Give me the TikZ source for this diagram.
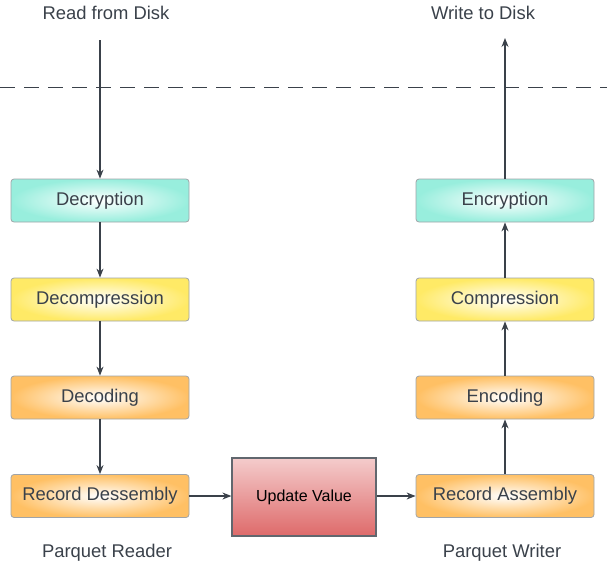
\documentclass[tikz,border=0pt]{standalone}
\usepackage{fontspec}
\setmainfont{Liberation Sans}
\usetikzlibrary{arrows.meta}
\definecolor{ink}{HTML}{3A414A}
\definecolor{edge}{HTML}{A0A4A8}
\definecolor{teal}{HTML}{98EEDD}
\definecolor{lemon}{HTML}{FFEA66}
\definecolor{amber}{HTML}{FFC064}
\definecolor{rosetop}{HTML}{F4CCCC}
\definecolor{rosebot}{HTML}{DE6A6A}
\tikzset{
  stage/.style={draw=edge, line width=0.8pt, rounded corners=3pt,
    minimum width=178pt, minimum height=43pt, inner sep=0pt,
    shading=radial, inner color=white, text=ink, font=\fontsize{18.4pt}{20pt}\selectfont},
  tealbox/.style={stage, outer color=teal},
  lemonbox/.style={stage, outer color=lemon},
  amberbox/.style={stage, outer color=amber},
  caption/.style={text=ink, font=\fontsize{18.4pt}{20pt}\selectfont},
  flow/.style={draw=ink, line width=1.2pt, -{Stealth[length=9pt,width=7pt]}},
}
\begin{document}
\begin{tikzpicture}[x=1pt,y=-1pt]
\useasboundingbox (0,0) rectangle (607,565);

% reader side
\node[caption] (rd) at (106,13) {Read from Disk};
\coordinate (rdstart) at (100,40);
\node[tealbox]  (decr) at (100,200.5) {Decryption};
\node[lemonbox] (decp) at (100,299.5) {Decompression};
\node[amberbox] (deco) at (100,397.5) {Decoding};
\node[amberbox] (rdis) at (100,496) {Record Dessembly};
\node[caption] (pr) at (107,553) {Parquet Reader};

% writer side
\node[caption] (wd) at (483,13) {Write to Disk};
\coordinate (wdend) at (505,38);
\node[tealbox]  (encr) at (505,200.5) {Encryption};
\node[lemonbox] (comp) at (505,299.5) {Compression};
\node[amberbox] (enco) at (505,397.5) {Encoding};
\node[amberbox] (rass) at (505,496) {Record Assembly};
\node[caption] (pw) at (502,553) {Parquet Writer};

% middle step
\node[draw=ink!80, line width=1.2pt, minimum width=144pt, minimum height=78pt,
  top color=rosetop, bottom color=rosebot, text=black,
  font=\fontsize{16pt}{18pt}\selectfont] (upd) at (304,497) {Update Value};

% storage boundary
\draw[ink, line width=1pt, dash pattern=on 15pt off 9pt] (0,87) -- (607,87);

% connectors
\draw[flow] (rdstart) -- (decr.north);
\draw[flow] (decr) -- (decp);
\draw[flow] (decp) -- (deco);
\draw[flow] (deco) -- (rdis);
\draw[flow] (rdis.east) -- (upd.west |- rdis.east);
\draw[flow] (upd.east |- rass.west) -- (rass.west);
\draw[flow] (rass) -- (enco);
\draw[flow] (enco) -- (comp);
\draw[flow] (comp) -- (encr);
\draw[flow] (encr.north) -- (wdend);
\end{tikzpicture}
\end{document}
